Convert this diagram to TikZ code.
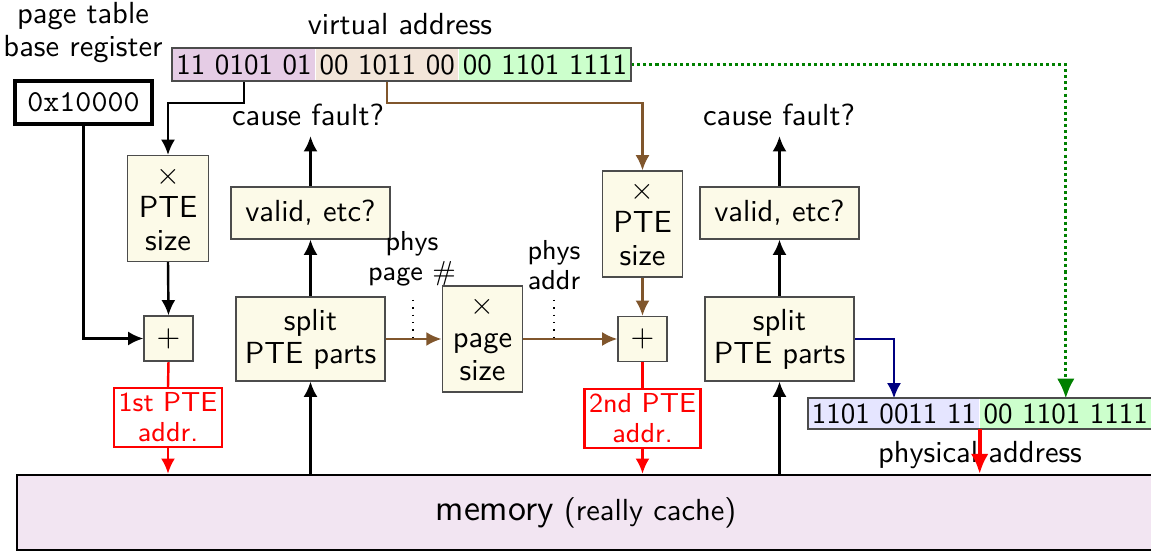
\documentclass[tikz,border=0pt]{standalone}
\usepackage{tikz}
\pgfdeclarelayer{nodelayer}
\pgfdeclarelayer{edgelayer}
\pgfsetlayers{edgelayer,nodelayer,main}
\usetikzlibrary{arrows.meta,positioning}
\usepackage{amsmath}
\renewcommand{\familydefault}{\sfdefault}
\linespread{0.9}
\definecolor{stagefill}{RGB}{252,250,232}
\definecolor{ptebrown}{RGB}{128,86,44}
\tikzset{
	>={Latex[length=5pt,width=4.6pt]},
	stage/.style={draw=black!70,fill=stagefill,align=center,inner sep=0pt},
	mulbox/.style={stage,minimum width=0.93cm,minimum height=1.22cm},
	addbox/.style={stage,minimum width=0.565cm,minimum height=0.52cm},
	validbox/.style={stage,minimum width=1.83cm,minimum height=0.6cm},
	splitbox/.style={stage,minimum width=1.716cm,minimum height=0.968cm},
	bits/.style={font=\fontsize{9.5pt}{11pt}\selectfont,inner sep=0pt,minimum width=1.636cm,minimum height=0.357cm},
	pbits/.style={font=\fontsize{9.5pt}{11pt}\selectfont,inner sep=0pt,minimum width=1.96cm,minimum height=0.334cm},
	pteaddr/.style={draw=red,thick,text=red,font=\small,align=center,inner sep=1.5pt},
	flow/.style={->,thick},
	pteflow/.style={->,thick,draw=ptebrown},
	bigtip/.style={-{Latex[length=6.5pt,width=5.8pt]}},
}

\begin{document}
\begin{tikzpicture}[x=1.152cm,y=-1.152cm]
	\useasboundingbox (0,0) rectangle (11.51,5.53);
	\begin{pgfonlayer}{nodelayer}
		\node [align=center] (ptbrlabel) at (0.83, 0.33) {page table\\base register};
		\node [draw,very thick,font=\ttfamily,minimum width=1.58cm,minimum height=0.5cm] (ptbr) at (0.835, 1.025) {0x10000};
		\node [] (valabel) at (4.00, 0.245) {virtual address};
		\node [bits,fill=violet!20] (vpn1) at (2.44, 0.645) {11 0101 01};
		\node [bits,fill=brown!20,right=0pt of vpn1] (vpn2) {00 1011 00};
		\node [bits,fill=green!20,right=0pt of vpn2,minimum width=1.97cm] (voff) {00 1101 1111};
		\draw [draw=black!70,semithick] (vpn1.north west) rectangle (voff.south east);
		\node [mulbox] (ptesize1) at (1.68, 2.085) {$\times$\\PTE\\size};
		\node [addbox] (plus1) at (1.685, 3.385) {$+$};
		\node [pteaddr] (pteaddr1) at (1.68, 4.175) {1st PTE\\addr.};
		\node [validbox] (valid1) at (3.105, 2.13) {valid, etc?};
		\node [] (fault1) at (3.08, 1.145) {cause fault?};
		\node [splitbox] (split1) at (3.105, 3.39) {split\\PTE parts};
		\node [font=\small,align=center] (ppnlabel) at (4.12, 2.59) {phys\\page $\#$};
		\node [mulbox] (pagesize) at (4.825, 3.39) {$\times$\\page\\size};
		\node [font=\small,align=center] (palabel) at (5.54, 2.655) {phys\\addr};
		\node [mulbox] (ptesize2) at (6.425, 2.24) {$\times$\\PTE\\size};
		\node [addbox] (plus2) at (6.425, 3.39) {$+$};
		\node [pteaddr] (pteaddr2) at (6.425, 4.185) {2nd PTE\\addr.};
		\node [validbox] (valid2) at (7.795, 2.13) {valid, etc?};
		\node [] (fault2) at (7.79, 1.145) {cause fault?};
		\node [splitbox] (split2) at (7.795, 3.39) {split\\PTE parts};
		\node [pbits,fill=blue!10] (ppn) at (8.94, 4.135) {1101 0011 11};
		\node [pbits,fill=green!20,right=0pt of ppn,minimum width=1.97cm] (poff) {00 1101 1111};
		\draw [draw=black!70,semithick] (ppn.north west) rectangle (poff.south east);
		\node [] (palabel2) at (9.80, 4.555) {physical address};
		\node [draw,thick,fill=violet!10,minimum width=13.11cm,minimum height=0.864cm] (memory) at (5.86, 5.125) {{\large memory} (really cache)};
		\coordinate (ppntick) at (4.13, 3.0);
		\coordinate (patick) at (5.54, 3.0);
	\end{pgfonlayer}
	\begin{pgfonlayer}{edgelayer}
		\draw [flow] (ptbr.south) |- (plus1.west);
		\draw [flow] (vpn1.south) -- ++(0, 0.225) -| (ptesize1.north);
		\draw [flow] (ptesize1.south) to (plus1.north);
		\draw [thick,red] (plus1.south) to (pteaddr1.north);
		\draw [flow,red] (pteaddr1.south) to (pteaddr1.south |- memory.north);
		\draw [flow] (split1.south |- memory.north) to (split1.south);
		\draw [flow] (split1.north) to (valid1.south);
		\draw [flow] (valid1.north) to (valid1.north |- fault1.south);
		\draw [pteflow] (split1.east) to (pagesize.west);
		\draw [pteflow] (pagesize.east) to (plus2.west);
		\draw [dotted] (ppntick) to (ppntick |- split1.east);
		\draw [dotted] (patick) to (patick |- split1.east);
		\draw [pteflow] (vpn2.south) -- ++(0, 0.225) -| (ptesize2.north);
		\draw [pteflow] (ptesize2.south) to (plus2.north);
		\draw [thick,red] (plus2.south) to (pteaddr2.north);
		\draw [flow,red] (pteaddr2.south) to (pteaddr2.south |- memory.north);
		\draw [flow] (split2.south |- memory.north) to (split2.south);
		\draw [flow] (split2.north) to (valid2.south);
		\draw [flow] (valid2.north) to (valid2.north |- fault2.south);
		\draw [flow,draw=blue!50!black] (split2.east) -| (ppn.north);
		\draw [bigtip,line width=1pt,densely dotted,draw=green!50!black] (voff.east) -| (poff.north);
	\end{pgfonlayer}
	\draw [bigtip,very thick,red] (ppn.south east) to (ppn.south east |- memory.north);
\end{tikzpicture}
\end{document}
